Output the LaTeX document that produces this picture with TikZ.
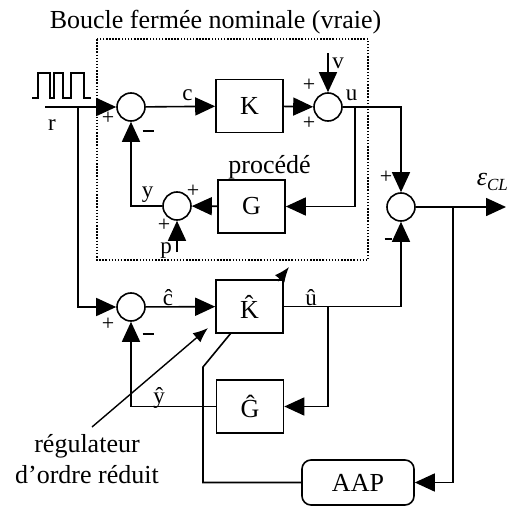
\documentclass[tikz,border=0pt]{standalone}
\usepackage{fontspec}
\setmainfont{Liberation Serif}
\usetikzlibrary{arrows.meta}
\begin{document}
\begin{tikzpicture}[x=1pt,y=-1pt,
  every path/.style={line width=1.6pt},
  big/.style={font=\fontsize{26}{30}\selectfont, inner sep=0pt},
  lab/.style={font=\fontsize{23}{26}\selectfont, inner sep=0pt},
  sgn/.style={font=\fontsize{22}{24}\selectfont, inner sep=0pt},
  blk/.style={draw, line width=1.6pt, minimum width=67pt, minimum height=53pt, inner sep=0pt, font=\fontsize{26}{30}\selectfont},
  sumn/.style={draw, circle, minimum size=28pt, inner sep=0pt, line width=1.6pt},
  arr/.style={-{Triangle[length=20pt,width=18pt]}},
  ptr/.style={-{Latex[length=15pt,width=12pt]}},
  box/.style={draw, line width=1.5pt, dash pattern=on 1.5pt off 1.6pt}]
\useasboundingbox (0,0) rectangle (507,506);

% title and dotted frame
\node[big, anchor=base] (title) at (215.5,28) {Boucle fermée nominale (vraie)};
\draw[box] (97,39) rectangle (368,260);

% square wave
\draw[line width=1.4pt] (32,98) -- (38,98) -- (38,73) -- (50,73) -- (50,98) -- (54,98) -- (54,73) -- (63,73) -- (63,98) -- (71,98) -- (71,73) -- (84,73) -- (84,98) -- (91,98);

% blocks and summers
\node[sumn] (s1) at (131,107) {};
\node[sumn] (s2) at (328,107) {};
\node[sumn] (s5) at (177,206) {};
\node[sumn] (s4) at (401,207) {};
\node[sumn] (s3) at (131,307) {};
\node[blk] (K) at (249.5,106) {K};
\node[blk] (G) at (251.5,206.5) {G};
\node[blk] (Kh) at (249.5,306.5) {\^{K}};
\node[blk] (Gh) at (250,406.5) {\^{G}};
\node[draw, rounded corners=9pt, line width=1.6pt, minimum width=112pt, minimum height=45pt, inner sep=0pt, font=\fontsize{26}{30}\selectfont] (AAP) at (358,482.5) {AAP};

% coordinates
\coordinate (rin) at (45,107);
\coordinate (rbr) at (78,107);
\coordinate (vin) at (328,53);
\coordinate (ubr) at (355,107);
\coordinate (pin) at (177,252);
\coordinate (out) at (506,207);
\coordinate (ebr) at (453,207);
\coordinate (uhbr) at (328,307);
\coordinate (aapk) at (231,333);
\coordinate (ptrs) at (92,427);
\coordinate (ptre) at (208,328);
\coordinate (adjs) at (278,281);
\coordinate (adje) at (289,267);

% true loop
\draw[arr] (rin) -- (s1);
\draw[arr] (s1) -- (K);
\draw[arr] (K) -- (s2);
\draw[arr] (vin) -- (s2);
\draw[arr] (s2) -- (401,107) -- (s4);
\draw[arr] (ubr) |- (G);
\draw[arr] (G) -- (s5);
\draw[arr] (s5) -| (s1);
\draw[arr] (pin) -- (s5);

% model loop
\draw[arr] (rbr) |- (s3);
\draw[arr] (s3) -- (Kh);
\draw[arr] (Kh) -| (s4);
\draw[arr] (uhbr) |- (Gh);
\draw[arr] (Gh) -| (s3);

% output and adaptation
\draw[arr] (s4) -- (out);
\draw[arr] (ebr) |- (AAP);
\draw (AAP) -| (203,367) -- (aapk);
\draw[ptr, line width=1.4pt] (ptrs) -- (ptre);
\draw[ptr, line width=1.4pt] (adjs) -- (adje);

% labels
\node[lab, anchor=base] (lr) at (52,130) {r};
\node[lab, anchor=base] (lc) at (187.5,100) {c};
\node[lab, anchor=base] (lv) at (338,68) {v};
\node[lab, anchor=base] (lu) at (351.5,100) {u};
\node[big, anchor=base] (lproc) at (269.5,173) {procédé};
\node[lab, anchor=base] (ly) at (147.5,197) {y};
\node[lab, anchor=base] (lp) at (166,253) {p};
\node[lab, anchor=base] (lch) at (168,305) {\^{c}};
\node[lab, anchor=base] (luh) at (311,305) {\^{u}};
\node[lab, anchor=base] (lyh) at (159,403) {\^{y}};
\node[anchor=base west, inner sep=0pt, font=\fontsize{26}{30}\selectfont] (leps) at (476,185) {\itshape ε\raisebox{-5pt}{\fontsize{17}{20}\selectfont CL}};
\node[big, anchor=base] (lreg1) at (87,452) {régulateur};
\node[big, anchor=base] (lreg2) at (87,483) {d’ordre réduit};

% signs
\node[sgn] (p1) at (108,118) {+};
\node[sgn] (m1) at (148,131) {\rule{11pt}{1.8pt}};
\node[sgn] (p2a) at (309,85) {+};
\node[sgn] (p2b) at (309,123) {+};
\node[sgn] (p5a) at (193,191) {+};
\node[sgn] (p5b) at (164,225) {+};
\node[sgn] (p4a) at (386,177) {+};
\node[sgn] (m4) at (388,239) {\rule{7pt}{1.8pt}};
\node[sgn] (p3) at (108,324) {+};
\node[sgn] (m3) at (148,334) {\rule{11pt}{1.8pt}};
\end{tikzpicture}
\end{document}
